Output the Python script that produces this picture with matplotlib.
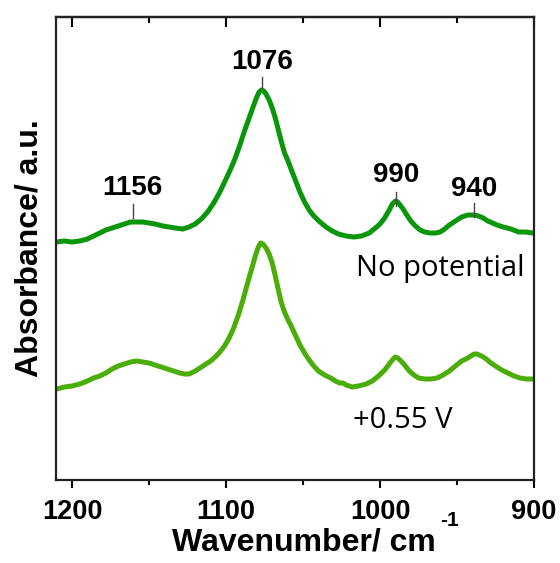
import numpy as np
import matplotlib
matplotlib.use('Agg')
import matplotlib.pyplot as plt
from matplotlib.ticker import MultipleLocator

plt.rcParams['mathtext.fontset'] = 'custom'
plt.rcParams['mathtext.bf'] = 'Liberation Sans:bold'

# 光谱数据
wn_top = [1210, 1205, 1200, 1195, 1190, 1186, 1182, 1178, 1174, 1170, 1166, 1162,
          1158, 1154, 1150, 1146, 1141, 1137, 1133, 1128, 1124, 1120, 1116, 1112,
          1108, 1104, 1100, 1097, 1094, 1091, 1088, 1085, 1082, 1080, 1078.5, 1077,
          1075.5, 1074, 1072, 1070, 1068, 1066, 1064, 1062, 1060, 1058, 1055, 1052,
          1049, 1046, 1043, 1039, 1035, 1031, 1027, 1022, 1017, 1012, 1007, 1003,
          1000, 997, 994, 992, 990, 988.5, 987, 985, 983, 980, 977, 974, 971, 967.5,
          964, 961, 958, 955, 951, 947, 943, 939, 936, 933, 930, 927, 924, 920, 915,
          910, 905, 901]
abs_top = [2.38, 2.39, 2.38, 2.39, 2.41, 2.44, 2.47, 2.50, 2.52, 2.54, 2.56, 2.58,
           2.58, 2.58, 2.57, 2.56, 2.54, 2.53, 2.52, 2.51, 2.53, 2.56, 2.61, 2.68,
           2.77, 2.88, 3.01, 3.11, 3.22, 3.35, 3.49, 3.62, 3.75, 3.83, 3.88, 3.90,
           3.89, 3.86, 3.80, 3.72, 3.62, 3.50, 3.38, 3.27, 3.20, 3.12, 3.00, 2.88,
           2.78, 2.70, 2.64, 2.58, 2.53, 2.49, 2.46, 2.44, 2.43, 2.44, 2.47, 2.52,
           2.56, 2.62, 2.70, 2.76, 2.79, 2.78, 2.75, 2.71, 2.66, 2.59, 2.54, 2.50,
           2.48, 2.47, 2.47, 2.48, 2.51, 2.55, 2.59, 2.63, 2.65, 2.65, 2.64, 2.62,
           2.59, 2.57, 2.55, 2.53, 2.51, 2.48, 2.48, 2.47]

wn_bot = [1210, 1205, 1200, 1195, 1190, 1186, 1182, 1178, 1174, 1170, 1166, 1162,
          1158, 1154, 1150, 1146, 1142, 1138, 1134, 1130, 1127, 1124, 1120, 1117,
          1113, 1110, 1107, 1104, 1101, 1098, 1095, 1092, 1089, 1086, 1083, 1081,
          1079, 1077.5, 1076, 1074, 1072, 1070, 1068, 1066, 1064, 1062, 1060, 1058,
          1055, 1052, 1049, 1046, 1043, 1040, 1036, 1032, 1029, 1026, 1024, 1022,
          1018, 1014, 1009, 1005, 1001, 997, 994, 992, 990, 988.5, 987, 984, 981,
          978, 975, 971, 967, 963, 959, 955, 951, 947, 943, 939, 937, 934, 931, 928,
          925, 921, 917, 913, 909, 905, 901]
abs_bot = [0.91, 0.93, 0.94, 0.96, 0.99, 1.02, 1.04, 1.07, 1.11, 1.14, 1.16, 1.18,
           1.19, 1.18, 1.17, 1.15, 1.13, 1.11, 1.09, 1.07, 1.06, 1.06, 1.09, 1.12,
           1.16, 1.19, 1.23, 1.28, 1.34, 1.42, 1.52, 1.65, 1.80, 1.97, 2.13, 2.24,
           2.33, 2.37, 2.36, 2.32, 2.26, 2.17, 2.04, 1.90, 1.77, 1.68, 1.61, 1.55,
           1.45, 1.35, 1.27, 1.20, 1.14, 1.09, 1.05, 1.02, 0.99, 0.97, 0.97, 0.95,
           0.93, 0.94, 0.96, 0.99, 1.04, 1.10, 1.16, 1.20, 1.23, 1.22, 1.20, 1.15,
           1.09, 1.05, 1.02, 1.01, 1.01, 1.02, 1.05, 1.09, 1.14, 1.19, 1.22, 1.26,
           1.26, 1.24, 1.21, 1.17, 1.14, 1.10, 1.07, 1.04, 1.02, 1.01, 1.01]

# 峰位标注
peak_names = ['1156', '1076', '990', '940']
peak_x = [1160.5, 1076.8, 989.6, 939.0]
peak_text_y = [2.92, 4.18, 3.05, 2.91]
peak_tick_y = [(2.62, 2.76), (3.92, 4.03), (2.74, 2.88), (2.63, 2.77)]

fig = plt.figure(figsize=(5.6, 5.63), dpi=100)
ax = fig.add_axes([0.1, 0.1474, 0.8536, 0.8224])

ax.plot(wn_top, abs_top, color='#0a960a', lw=3.6, solid_joinstyle='round',
        solid_capstyle='round')
ax.plot(wn_bot, abs_bot, color='#4aad08', lw=3.6, solid_joinstyle='round',
        solid_capstyle='round')

bold = dict(family='Liberation Sans', weight='bold')
for name, x, ty, (y0, y1) in zip(peak_names, peak_x, peak_text_y, peak_tick_y):
    ax.plot([x, x], [y0, y1], color='#444444', lw=1.0)
    ax.text(x, ty, name, ha='center', va='center', fontsize=20, **bold)

ax.text(961, 2.12, 'No potential', ha='center', va='center', fontsize=21,
        family='Open Sans')
ax.text(985, 0.60, '+0.55 V', ha='center', va='center', fontsize=21,
        family='Open Sans')

ax.set_xlim(1210.4, 900)
ax.set_ylim(0, 4.63)
ax.set_yticks([])
ax.xaxis.set_major_locator(MultipleLocator(100))
ax.xaxis.set_minor_locator(MultipleLocator(50))
ax.tick_params(axis='x', which='major', direction='out', length=6, width=1.5,
               labelsize=19.5, pad=8)
ax.tick_params(axis='x', which='minor', direction='out', length=3.5, width=1.5)
for lab in ax.get_xticklabels():
    lab.set_fontfamily('Liberation Sans')
    lab.set_fontweight('bold')

# 顶部刻度朝内
top = ax.secondary_xaxis('top')
top.xaxis.set_major_locator(MultipleLocator(100))
top.xaxis.set_minor_locator(MultipleLocator(50))
top.tick_params(axis='x', which='major', direction='in', length=7, width=1.5,
                labeltop=False)
top.tick_params(axis='x', which='minor', direction='in', length=4, width=1.5)
top.spines['top'].set_linewidth(1.6)

for s in ax.spines.values():
    s.set_linewidth(1.6)
    s.set_color('#222222')

# 坐标轴标题
fig.text(0.543, 0.022, 'Wavenumber/ cm', ha='center', va='baseline',
         fontsize=23, **bold)
fig.text(0.802, 0.075, '-1', ha='center', va='center', fontsize=15, **bold)
ax.set_ylabel('Absorbance/ a.u.', fontsize=23, labelpad=8, **bold)

fig.savefig('out.png', dpi=100)
